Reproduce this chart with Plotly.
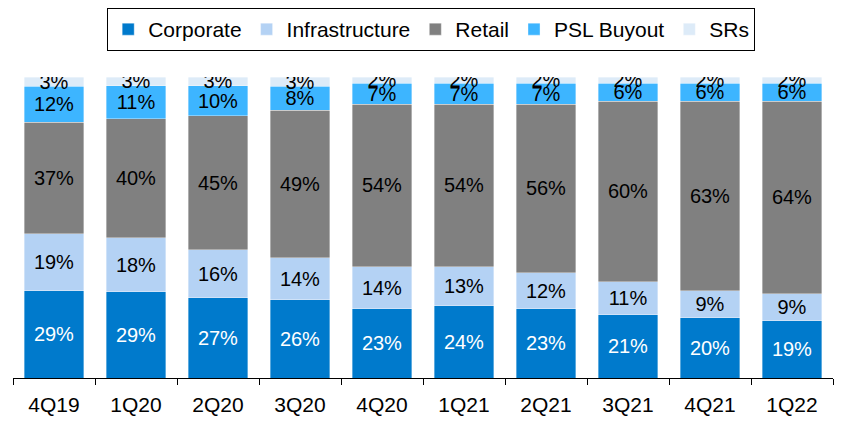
import plotly.graph_objects as go

quarters = ["4Q19", "1Q20", "2Q20", "3Q20", "4Q20", "1Q21", "2Q21", "3Q21", "4Q21", "1Q22"]
corporate = [29, 29, 27, 26, 23, 24, 23, 21, 20, 19]
infrastructure = [19, 18, 16, 14, 14, 13, 12, 11, 9, 9]
retail = [37, 40, 45, 49, 54, 54, 56, 60, 63, 64]
psl_buyout = [12, 11, 10, 8, 7, 7, 7, 6, 6, 6]
srs = [3, 3, 3, 3, 2, 2, 2, 2, 2, 2]

series = [
    ("Corporate", corporate, "#007ACC", "white"),
    ("Infrastructure", infrastructure, "#B4D2F4", "black"),
    ("Retail", retail, "#808080", "black"),
    ("PSL Buyout", psl_buyout, "#3DB5FF", "black"),
    ("SRs", srs, "#DDEBF8", "black"),
]

FONT = "Liberation Sans, Arial"

fig = go.Figure()
for name, vals, color, tcolor in series:
    fig.add_trace(go.Bar(
        x=quarters, y=vals, name=name,
        marker=dict(color=color, line=dict(width=0.6, color="rgba(255,255,255,0.6)")),
        text=[f"{v}%" for v in vals],
        texttemplate="%{text}",
        textposition="inside",
        insidetextanchor="middle",
        textangle=0,
        textfont=dict(color=tcolor, size=20, family=FONT),
        hoverinfo="skip",
    ))

# page body has an 8px margin, so the figure is offset by (8, 8)
fig.update_layout(
    barmode="stack",
    barnorm="percent",
    bargap=0.28,
    width=835, height=413,
    margin=dict(l=5, r=10, t=69, b=43, autoexpand=False),
    paper_bgcolor="white", plot_bgcolor="white",
    font=dict(family=FONT, size=21, color="black"),
    uniformtext=dict(minsize=20, mode="show"),
    showlegend=True,
    legend=dict(
        orientation="h", x=0.51, xanchor="center",
        yref="container", y=1.0, yanchor="top",
        bordercolor="black", borderwidth=1,
        font=dict(size=21, family=FONT),
        itemwidth=30, traceorder="normal",
    ),
    xaxis=dict(
        showline=True, linecolor="black", linewidth=1,
        ticks="outside", tickson="boundaries", ticklen=6, tickcolor="black",
        tickfont=dict(size=21), showgrid=False, automargin=False,
        ticklabelstandoff=8,
    ),
    yaxis=dict(range=[0, 100], visible=False, showgrid=False, automargin=False),
)

fig.write_html("out.html")
